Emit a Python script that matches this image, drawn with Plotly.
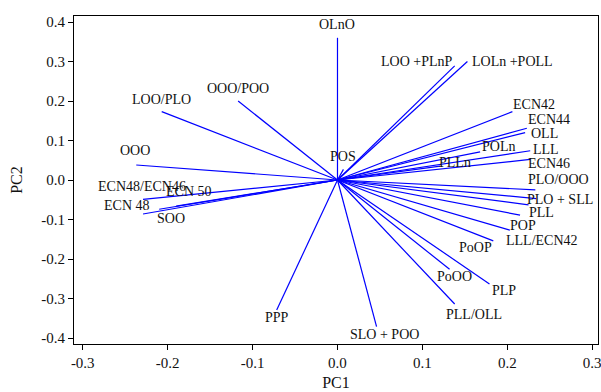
import plotly.graph_objects as go

# ---- data (loadings on PC1 / PC2) ----
labels = ["OLnO", "LOO +PLnP", "LOLn +POLL", "ECN42", "ECN44", "OLL", "LLL",
          "POLn", "PLLn", "ECN46", "PLO/OOO", "PLO + SLL", "PLL", "POP",
          "LLL/ECN42", "PoOP", "PoOO", "PLP", "PLL/OLL", "SLO + POO", "PPP",
          "SOO", "ECN 50", "ECN 48", "ECN48/ECN46", "OOO", "LOO/PLO",
          "OOO/POO", "POS"]
pc1 = [0.000, 0.138, 0.153, 0.206, 0.223, 0.221, 0.227,
       0.168, 0.121, 0.227, 0.233, 0.234, 0.225, 0.215,
       0.203, 0.1835, 0.132, 0.179, 0.138, 0.046, -0.0716,
       -0.210, -0.190, -0.229, -0.229, -0.237, -0.207,
       -0.117, 0.007]
pc2 = [0.360, 0.289, 0.300, 0.173, 0.131, 0.120, 0.074,
       0.071, 0.035, 0.052, -0.025, -0.047, -0.063, -0.089,
       -0.127, -0.154, -0.226, -0.263, -0.314, -0.371, -0.329,
       -0.074, -0.066, -0.086, -0.049, 0.038, 0.173,
       0.200, 0.027]

x_ticks = [-0.3, -0.2, -0.1, 0.0, 0.1, 0.2, 0.3]
y_ticks = [-0.4, -0.3, -0.2, -0.1, 0.0, 0.1, 0.2, 0.3, 0.4]

# label placement offsets (pixels, relative to vector tip)
label_shift = {
    "OLnO": (0, 13), "LOO +PLnP": (-38, 4), "LOLn +POLL": (45, 0),
    "ECN42": (22, 7), "ECN44": (22, 9), "OLL": (19, -1), "LLL": (16, 1),
    "POLn": (18, 5), "PLLn": (15, 4), "ECN46": (19, -4),
    "PLO/OOO": (23, 10), "PLO + SLL": (24, -1), "PLL": (13, -8),
    "POP": (3, -10), "LLL/ECN42": (32, -10), "PoOP": (-18, -7),
    "PoOO": (5, -7), "PLP": (15, -7), "PLL/OLL": (19, -10),
    "SLO + POO": (8, -8), "PPP": (0, -8), "SOO": (12, -9),
    "ECN 50": (13, 15), "ECN 48": (-16, 8), "ECN48/ECN46": (-1, 13),
    "OOO": (-1, 14), "LOO/PLO": (0, 12), "OOO/POO": (0, 13), "POS": (0, 13),
}

FONT = "Liberation Serif"

xs, ys = [], []
for a, b in zip(pc1, pc2):
    xs += [0, a, None]
    ys += [0, b, None]

fig = go.Figure()
fig.add_trace(go.Scatter(x=xs, y=ys, mode="lines",
                         line=dict(color="#0000FF", width=1.2),
                         hoverinfo="skip", showlegend=False))

for lab, a, b in zip(labels, pc1, pc2):
    dx, dy = label_shift[lab]
    fig.add_annotation(x=a, y=b, text=lab, showarrow=False,
                       xshift=dx, yshift=dy, xanchor="center", yanchor="middle",
                       font=dict(family=FONT, size=14, color="#111"))

fig.update_layout(
    width=601, height=392,
    margin=dict(l=74, r=3, t=16, b=48, autoexpand=False),
    paper_bgcolor="white", plot_bgcolor="white",
    font=dict(family=FONT, color="#111"),
)
fig.update_xaxes(range=[-0.3103, 0.3068], tickvals=x_ticks,
                 ticktext=[f"{v:.1f}" for v in x_ticks],
                 ticklabeloverflow="allow", automargin=False,
                 showgrid=False, zeroline=False,
                 showline=True, linecolor="black", linewidth=1, mirror=True,
                 ticks="outside", ticklen=5, tickcolor="black",
                 tickfont=dict(family=FONT, size=15, color="#111"),
                 title=dict(text="PC1", font=dict(family=FONT, size=16, color="#111"),
                            standoff=6))
fig.update_yaxes(range=[-0.4152, 0.4152], tickvals=y_ticks,
                 ticktext=[f"{v:.1f}" for v in y_ticks],
                 ticklabeloverflow="allow", automargin=False,
                 showgrid=False, zeroline=False,
                 showline=True, linecolor="black", linewidth=1, mirror=True,
                 ticks="outside", ticklen=5, tickcolor="black",
                 tickfont=dict(family=FONT, size=15, color="#111"),
                 title=dict(text="PC2", font=dict(family=FONT, size=16, color="#111"),
                            standoff=14))

fig.write_html("out.html", config={"displayModeBar": False},
               post_script="document.body.style.margin='0';document.body.style.padding='0';")
